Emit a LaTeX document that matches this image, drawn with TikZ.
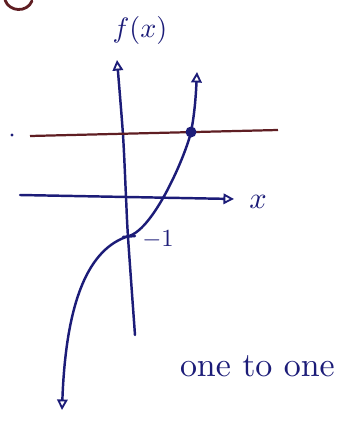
\documentclass[tikz,border=0pt]{standalone}
\usepackage{tikz}
\usetikzlibrary{arrows.meta}
\definecolor{inkblue}{RGB}{28,28,120}
\definecolor{inkred}{RGB}{95,30,35}
\tikzset{
  ink/.style={inkblue, line width=2.1pt, line cap=round},
  openarrow/.style={-{Triangle[open, length=9pt, width=9pt, line width=1.6pt]}},
  bothopen/.style={{Triangle[open, length=9pt, width=9pt, line width=1.6pt]}-{Triangle[open, length=9pt, width=9pt, line width=1.6pt]}},
}
\begin{document}
\begin{tikzpicture}[x=0.03cm, y=-0.03cm]
  \useasboundingbox (0,0) rectangle (346,421);

  % piece of a letter cut off at the top
  \draw[inkred, line width=2.4pt, line cap=round] (5,0) .. controls (9,12) and (27,13) .. (32,1);

  % axes
  \draw[ink, openarrow] plot[smooth] coordinates {(135,335) (128,237) (126,197) (123,135) (117,60)};
  \draw[ink, openarrow] (20,195) -- (234,199);
  \node[inkblue, scale=2.4] (fx) at (140,30) {$f(x)$};
  \node[inkblue, scale=2.6] (xlab) at (258,202) {$x$};

  % horizontal line test
  \draw[inkred, line width=1.9pt] (30,136) -- (278,130);
  \fill[inkblue] (12,135) circle (1.6);

  % curve
  \draw[ink, bothopen] (62,410) .. controls (66,300) and (89,248) .. (129,236)
    .. controls (154,228.5) and (185,157) .. (191,132)
    .. controls (195,112) and (196,92) .. (197,72);
  \fill[inkblue] (191,132) circle (5.5);

  % tick at -1
  \draw[ink] (123,237) -- (135,236);
  \node[inkblue, scale=2.1] (m1) at (158,240) {$-1$};

  \node[inkblue, scale=2.9, anchor=west] (lbl) at (168,366) {one to one};
\end{tikzpicture}
\end{document}
